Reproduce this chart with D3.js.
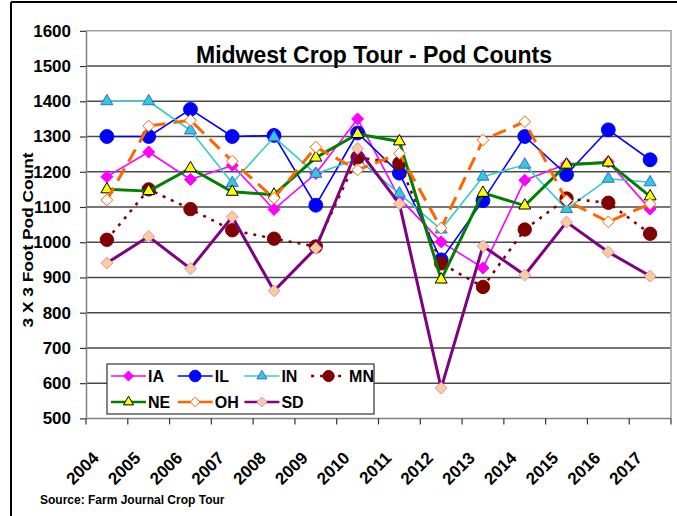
<!DOCTYPE html>
<html>
<head>
<meta charset="utf-8">
<title>Midwest Crop Tour - Pod Counts</title>
<script src="https://cdn.jsdelivr.net/npm/d3@7"></script>
<style>
  body { margin: 0; background: #fff; }
  text { font-family: "Liberation Sans", Arial, sans-serif; font-weight: bold; }
</style>
</head>
<body>
<script>
// data
var years = ["2004","2005","2006","2007","2008","2009","2010","2011","2012","2013","2014","2015","2016","2017"];
var IA = [1186,1256,1178,1218,1093,1195,1350,1125,1001,927,1176,1222,1228,1094];
var IL = [1300,1300,1377,1300,1303,1105,1310,1196,950,1118,1300,1192,1319,1234];
var IN = [1400,1400,1317,1168,1298,1194,1236,1138,1036,1186,1220,1094,1180,1170];
var MN = [1007,1150,1094,1034,1010,988,1241,1224,940,873,1036,1124,1112,1024];
var NE = [1150,1145,1210,1143,1135,1240,1307,1286,894,1140,1104,1220,1226,1130];
var OH = [1120,1330,1346,1230,1125,1270,1205,1252,1040,1290,1342,1118,1058,1109];
var SD = [941,1016,925,1072,862,983,1266,1109,586,989,907,1057,972,904];
var yTicks = [500,600,700,800,900,1000,1100,1200,1300,1400,1500,1600];

var W = 677, H = 516;
var svg = d3.select("body").append("svg").attr("width", W).attr("height", H);

// outer frame (only top and left edges show)
svg.append("line").attr("x1", 11).attr("y1", 2).attr("x2", W).attr("y2", 2)
   .attr("stroke", "#000").attr("stroke-width", 2);
svg.append("line").attr("x1", 11).attr("y1", 2).attr("x2", 11).attr("y2", H)
   .attr("stroke", "#000").attr("stroke-width", 2);

var pLeft = 86, pRight = 671, pTop = 30.8, pBottom = 418.4;

var x = d3.scaleBand().domain(years).range([pLeft, pRight]).padding(0);
var y = d3.scaleLinear().domain([500, 1600]).range([pBottom, pTop]);

// gridlines
svg.selectAll(".grid").data(yTicks.slice(1, -1)).enter().append("line")
   .attr("x1", pLeft).attr("x2", pRight)
   .attr("y1", function(d) { return y(d); }).attr("y2", function(d) { return y(d); })
   .attr("stroke", "#4a4a4a").attr("stroke-width", 1.5);

// plot border (top, right)
svg.append("path")
   .attr("d", "M" + pLeft + "," + y(1600) + "H" + pRight + "V" + pBottom)
   .attr("fill", "none").attr("stroke", "#a0a0a0").attr("stroke-width", 1.5);

// y axis
var yAxis = svg.append("g").attr("transform", "translate(" + pLeft + ",0)")
   .call(d3.axisLeft(y).tickValues(yTicks).tickFormat(d3.format("d"))
           .tickSize(6).tickSizeOuter(0).tickPadding(9));
yAxis.select(".domain").attr("stroke", "#808080").attr("stroke-width", 1.5);
yAxis.selectAll(".tick line").attr("stroke", "#333").attr("stroke-width", 1.2);
yAxis.selectAll(".tick text").attr("font-size", "17px").attr("fill", "#000")
   .attr("font-family", "'Liberation Sans', Arial, sans-serif").attr("font-weight", "bold");

// x axis line and ticks at band edges
svg.append("line").attr("x1", pLeft).attr("x2", pRight).attr("y1", pBottom).attr("y2", pBottom)
   .attr("stroke", "#808080").attr("stroke-width", 1.5);
var edges = years.map(function(d) { return x(d); }).concat([pRight]);
svg.selectAll(".xtick").data(edges).enter().append("line")
   .attr("x1", function(d) { return d; }).attr("x2", function(d) { return d; })
   .attr("y1", pBottom).attr("y2", pBottom + 6)
   .attr("stroke", "#333").attr("stroke-width", 1.2);

svg.selectAll(".xlab").data(years).enter().append("text")
   .attr("transform", function(d) {
       return "translate(" + (x(d) + x.bandwidth() / 2 - 7) + "," + 459 + ") rotate(-45)";
   })
   .attr("text-anchor", "end")
   .attr("font-size", "17px")
   .text(function(d) { return d; });

// titles
svg.append("text").attr("x", 374).attr("y", 63).attr("text-anchor", "middle")
   .attr("font-size", "23px").text("Midwest Crop Tour - Pod Counts");

svg.append("text").attr("transform", "translate(33,240) rotate(-90)")
   .attr("text-anchor", "middle").attr("font-size", "15px")
   .attr("textLength", 175).attr("lengthAdjust", "spacingAndGlyphs")
   .text("3 X 3 Foot Pod Count");

svg.append("text").attr("x", 40).attr("y", 504).attr("font-size", "12px")
   .text("Source: Farm Journal Crop Tour");

// series
var diamond = {
    draw: function(ctx, size) {
        var r = Math.sqrt(size / 2);
        ctx.moveTo(0, -r); ctx.lineTo(r, 0); ctx.lineTo(0, r); ctx.lineTo(-r, 0); ctx.closePath();
    }
};

var series = [
    { name: "IA", values: IA, color: "#ff00ff", width: 1.6, dash: null, shape: diamond, size: 72, fill: "#ff00ff", stroke: "#ff00ff" },
    { name: "IL", values: IL, color: "#0000ff", width: 1.6, dash: null, shape: d3.symbolCircle, size: 150, fill: "#0000ff", stroke: "#0000ff" },
    { name: "IN", values: IN, color: "#33cccc", width: 1.6, dash: null, shape: d3.symbolTriangle, size: 62, fill: "#33cccc", stroke: "#3366ff" },
    { name: "MN", values: MN, color: "#800000", width: 2.5, dash: "3,6", shape: d3.symbolCircle, size: 140, fill: "#800000", stroke: "#800000" },
    { name: "NE", values: NE, color: "#008000", width: 3, dash: null, shape: d3.symbolTriangle, size: 62, fill: "#ffff00", stroke: "#000" },
    { name: "OH", values: OH, color: "#ff6600", width: 3, dash: "14,8", shape: diamond, size: 68, fill: "#fff", stroke: "#ff6600" },
    { name: "SD", values: SD, color: "#800080", width: 3, dash: null, shape: diamond, size: 72, fill: "#ffcc99", stroke: "#cc99cc" }
];

var line = d3.line()
    .x(function(d, i) { return x(years[i]) + x.bandwidth() / 2; })
    .y(function(d) { return y(d); });

series.forEach(function(s) {
    var g = svg.append("g");
    g.append("path").attr("d", line(s.values))
     .attr("fill", "none").attr("stroke", s.color).attr("stroke-width", s.width)
     .attr("stroke-dasharray", s.dash).attr("stroke-linejoin", "round");
    g.selectAll("path.m").data(s.values).enter().append("path").attr("class", "m")
     .attr("d", d3.symbol().type(s.shape).size(s.size))
     .attr("transform", function(d, i) {
         return "translate(" + (x(years[i]) + x.bandwidth() / 2) + "," + y(d) + ")";
     })
     .attr("fill", s.fill).attr("stroke", s.stroke).attr("stroke-width", 1);
});

// legend
var legend = svg.append("g");
legend.append("rect").attr("x", 107).attr("y", 364).attr("width", 267).attr("height", 50)
   .attr("fill", "#fff").attr("stroke", "#333").attr("stroke-width", 1.2);

var items = legend.selectAll(".item").data(series).enter().append("g")
   .attr("transform", function(d, i) {
       return "translate(" + (111 + (i % 4) * 66.7) + "," + (i < 4 ? 376 : 402) + ")";
   });
items.append("line").attr("x1", 0).attr("x2", 35).attr("y1", 0).attr("y2", 0)
   .attr("stroke", function(d) { return d.color; })
   .attr("stroke-width", function(d) { return Math.min(d.width, 2.5); })
   .attr("stroke-dasharray", function(d) { return d.name === "MN" ? "3,6" : null; });
items.append("path")
   .attr("d", function(d) { return d3.symbol().type(d.shape).size(d.size * 0.7)(); })
   .attr("transform", "translate(17.5,0)")
   .attr("fill", function(d) { return d.fill; })
   .attr("stroke", function(d) { return d.stroke; }).attr("stroke-width", 1);
items.append("text").attr("x", function(d) { return d.name === "MN" ? 38 : 37; }).attr("y", 6)
   .attr("font-size", "16px").text(function(d) { return d.name; });
</script>
</body>
</html>
